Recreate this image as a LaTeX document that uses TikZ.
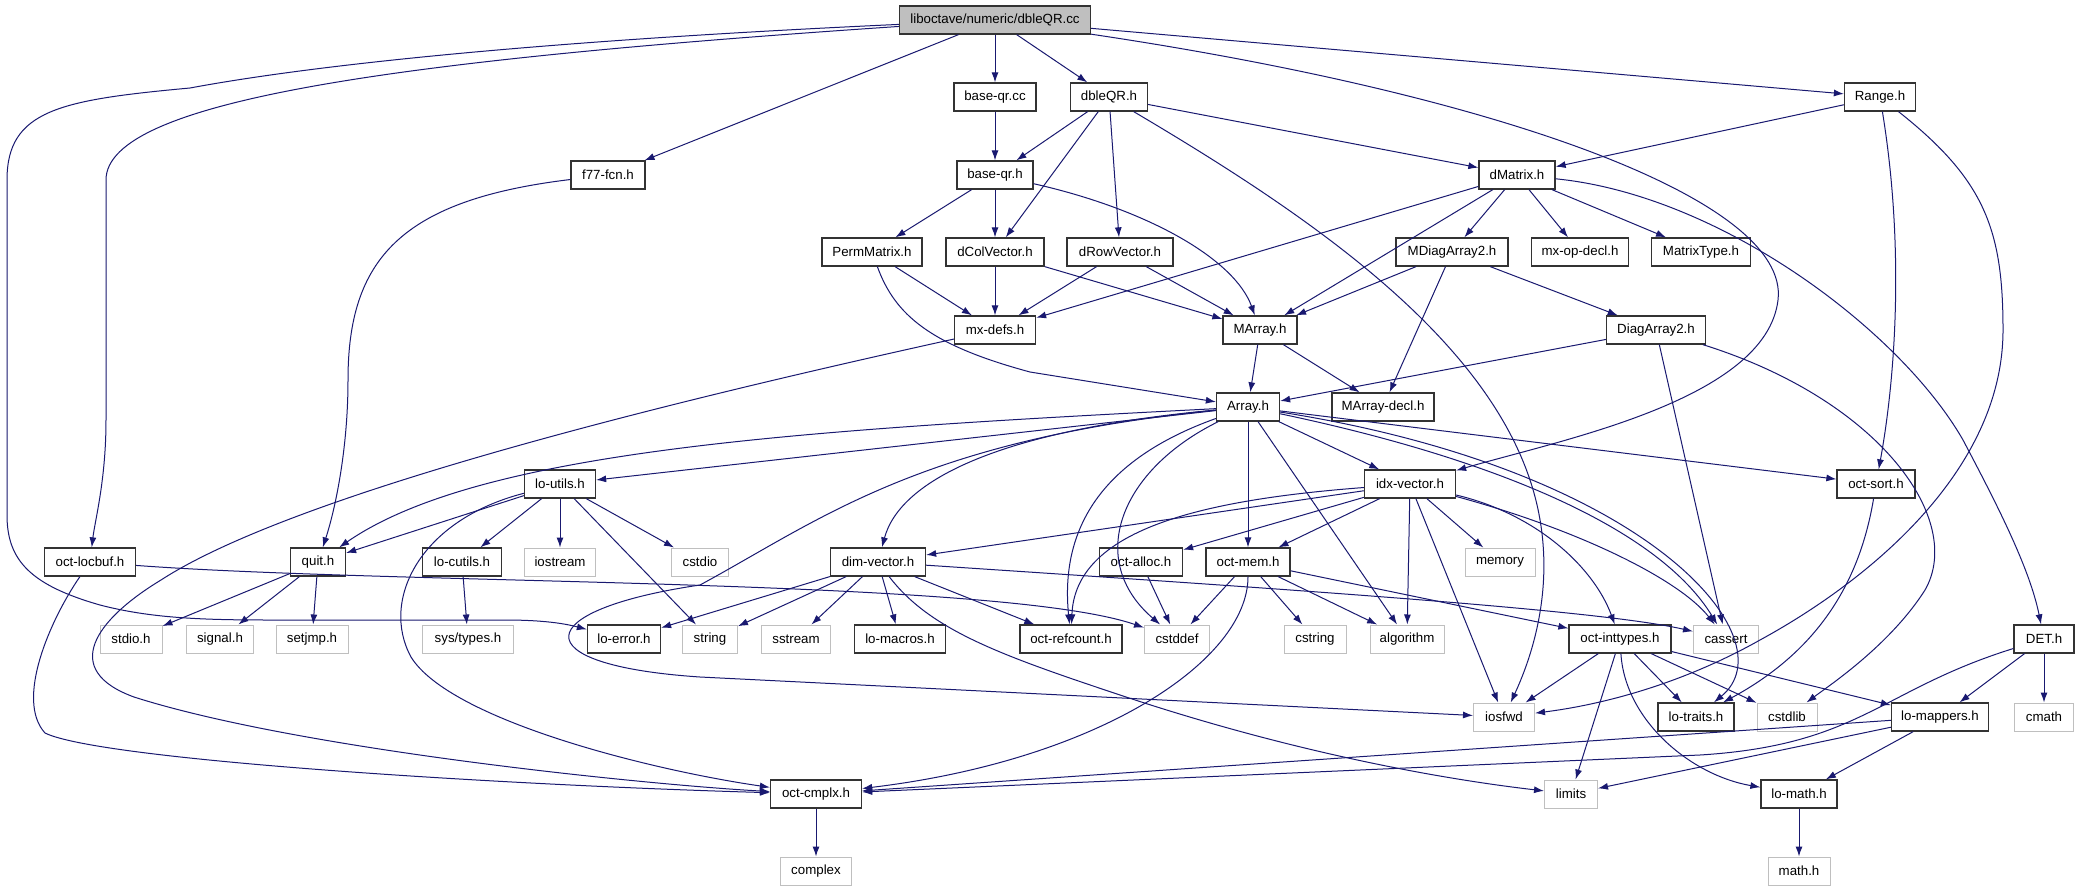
\documentclass[tikz,border=0pt]{standalone}
\usepackage{fontspec}
\setmainfont{Liberation Sans}
\usetikzlibrary{arrows.meta}

\definecolor{lien}{HTML}{191970}
\definecolor{grisbord}{HTML}{BFBFBF}
\definecolor{grisfond}{HTML}{BFBFBF}
\definecolor{bord}{HTML}{333333}

\tikzset{
  fichier/.style={draw=bord, line width=1.3pt, fill=white, inner sep=0pt,
    minimum height=28pt, font=\fontsize{13.3}{16}\selectfont},
  systeme/.style={fichier, draw=grisbord, line width=1pt},
  racine/.style={fichier, fill=grisfond},
  dep/.style={draw=lien, line width=1pt, -{Latex[length=10pt,width=7pt]}}
}

\begin{document}
\begin{tikzpicture}[x=1pt, y=-1pt]
		% fond et cadre
		\fill[white] (0,0) rectangle (2079,891);
		\useasboundingbox (0,0) rectangle (2079,891);

		% rang 0
		\node[racine, minimum width=191pt] (racine) at (995,20) {liboctave/numeric/dbleQR.cc};

		% rang 1
		\node[fichier, minimum width=82pt] (baseqrcc) at (995,97) {base-qr.cc};
		\node[fichier, minimum width=77pt] (dbleqr) at (1109,97) {dbleQR.h};
		\node[fichier, minimum width=71pt] (range) at (1880,97) {Range.h};

		% rang 2
		\node[fichier, minimum width=74pt] (f77) at (608,175) {f77-fcn.h};
		\node[fichier, minimum width=76pt] (baseqr) at (995,175) {base-qr.h};
		\node[fichier, minimum width=76pt] (dmatrix) at (1517,175) {dMatrix.h};

		% rang 3
		\node[fichier, minimum width=100pt] (perm) at (872,252) {PermMatrix.h};
		\node[fichier, minimum width=98pt] (dcol) at (995,252) {dColVector.h};
		\node[fichier, minimum width=106pt] (drow) at (1120,252) {dRowVector.h};
		\node[fichier, minimum width=112pt] (mdiag) at (1452,252) {MDiagArray2.h};
		\node[fichier, minimum width=97pt] (mxop) at (1580,252) {mx-op-decl.h};
		\node[fichier, minimum width=99pt] (mtype) at (1701,252) {MatrixType.h};

		% rang 4
		\node[fichier, minimum width=81pt] (mxdefs) at (995,330) {mx-defs.h};
		\node[fichier, minimum width=74pt] (marray) at (1260,330) {MArray.h};
		\node[fichier, minimum width=99pt] (diag) at (1656,330) {DiagArray2.h};

		% rang 5
		\node[fichier, minimum width=63pt] (array) at (1248,407) {Array.h};
		\node[fichier, minimum width=102pt] (marraydecl) at (1383,407) {MArray-decl.h};

		% rang 6
		\node[fichier, minimum width=71pt] (loutils) at (560,484) {lo-utils.h};
		\node[fichier, minimum width=91pt] (idx) at (1410,484) {idx-vector.h};
		\node[fichier, minimum width=78pt] (octsort) at (1876,484) {oct-sort.h};

		% rang 7
		\node[fichier, minimum width=91pt] (oclbuf) at (90,562) {oct-locbuf.h};
		\node[fichier, minimum width=55pt] (quit) at (318,562) {quit.h};
		\node[fichier, minimum width=79pt] (locutils) at (462,562) {lo-cutils.h};
		\node[systeme, minimum width=71pt] (iostream) at (560,562) {iostream};
		\node[systeme, minimum width=57pt] (cstdio) at (700,562) {cstdio};
		\node[fichier, minimum width=95pt] (dimvec) at (878,562) {dim-vector.h};
		\node[fichier, minimum width=83pt] (octalloc) at (1141,562) {oct-alloc.h};
		\node[fichier, minimum width=84pt] (octmem) at (1248,562) {oct-mem.h};
		\node[systeme, minimum width=70pt] (memory) at (1500,562) {memory};

		% rang 8
		\node[systeme, minimum width=62pt] (stdio) at (131,639) {stdio.h};
		\node[systeme, minimum width=67pt] (signal) at (220,639) {signal.h};
		\node[systeme, minimum width=72pt] (setjmp) at (312,639) {setjmp.h};
		\node[systeme, minimum width=91pt] (systypes) at (468,639) {sys/types.h};
		\node[fichier, minimum width=73pt] (loerror) at (624,639) {lo-error.h};
		\node[systeme, minimum width=55pt] (string) at (710,639) {string};
		\node[systeme, minimum width=69pt] (sstream) at (796,639) {sstream};
		\node[fichier, minimum width=91pt] (lomacros) at (900,639) {lo-macros.h};
		\node[fichier, minimum width=102pt] (octref) at (1071,639) {oct-refcount.h};
		\node[systeme, minimum width=65pt] (cstddef) at (1177,639) {cstddef};
		\node[systeme, minimum width=62pt] (cstring) at (1315,639) {cstring};
		\node[systeme, minimum width=74pt] (algorithm) at (1407,639) {algorithm};
		\node[fichier, minimum width=102pt] (octint) at (1620,639) {oct-inttypes.h};
		\node[systeme, minimum width=65pt] (cassert) at (1726,639) {cassert};
		\node[fichier, minimum width=60pt] (det) at (2044,639) {DET.h};

		% rang 9
		\node[systeme, minimum width=61pt] (iosfwd) at (1504,717) {iosfwd};
		\node[fichier, minimum width=76pt] (lotraits) at (1696,717) {lo-traits.h};
		\node[systeme, minimum width=60pt] (cstdlib) at (1787,717) {cstdlib};
		\node[fichier, minimum width=97pt] (lomap) at (1940,717) {lo-mappers.h};
		\node[systeme, minimum width=59pt] (cmath) at (2044,717) {cmath};

		% rang 10
		\node[fichier, minimum width=91pt] (octcmplx) at (816,794) {oct-cmplx.h};
		\node[systeme, minimum width=53pt] (limits) at (1571,794) {limits};
		\node[fichier, minimum width=76pt] (lomath) at (1799,794) {lo-math.h};

		% rang 11
		\node[systeme, minimum width=71pt] (complex) at (816,871) {complex};
		\node[systeme, minimum width=62pt] (mathh) at (1799,871) {math.h};

		% liens de dbleQR.cc
		\draw[dep] (racine) -- (f77);
		\draw[dep] (racine) -- (baseqrcc);
		\draw[dep] (racine) -- (dbleqr);
		\draw[dep] (racine) -- (range);
		\draw[dep] (racine) .. controls (400,60) and (106,100) .. (106,180) -- (106,420) .. controls (106,480) and (95,520) .. (oclbuf);
		\draw[dep] (racine) .. controls (450,45) and (260,75) .. (190,88) .. controls (60,100) and (7,110) .. (7,180) -- (7,515) .. controls (7,560) and (30,585) .. (100,605) .. controls (150,618) and (200,620) .. (270,620) -- (505,620) .. controls (550,620) and (570,625) .. (loerror);
		\draw[dep] (racine) .. controls (1500,95) and (1790,200) .. (1778,300) .. controls (1766,400) and (1560,440) .. (idx);

		% liens du rang 1
		\draw[dep] (baseqrcc) -- (baseqr);
		\draw[dep] (dbleqr) -- (baseqr);
		\draw[dep] (dbleqr) -- (dcol);
		\draw[dep] (dbleqr) -- (drow);
		\draw[dep] (dbleqr) -- (dmatrix);
		\draw[dep] (dbleqr) .. controls (1300,210) and (1480,330) .. (1530,480) .. controls (1560,570) and (1535,650) .. (iosfwd);
		\draw[dep] (range) -- (dmatrix);
		\draw[dep] (range) .. controls (1905,250) and (1895,380) .. (octsort);
		\draw[dep] (range) .. controls (1985,180) and (2003,230) .. (2003,330) .. controls (2003,470) and (1870,580) .. (1760,640) .. controls (1680,685) and (1600,705) .. (iosfwd);

		% liens du rang 2
		\draw[dep] (f77) .. controls (400,200) and (348,260) .. (348,380) .. controls (348,450) and (335,510) .. (quit);
		\draw[dep] (baseqr) -- (perm);
		\draw[dep] (baseqr) -- (dcol);
		\draw[dep] (baseqr) .. controls (1150,210) and (1235,260) .. (marray);
		\draw[dep] (dmatrix) -- (mxdefs);
		\draw[dep] (dmatrix) -- (marray);
		\draw[dep] (dmatrix) -- (mdiag);
		\draw[dep] (dmatrix) -- (mxop);
		\draw[dep] (dmatrix) -- (mtype);
		\draw[dep] (dmatrix) .. controls (1720,195) and (1900,330) .. (1963,440) .. controls (2000,510) and (2030,570) .. (det);

		% liens du rang 3
		\draw[dep] (perm) -- (mxdefs);
		\draw[dep] (perm) .. controls (895,315) and (930,345) .. (1030,372) -- (array);
		\draw[dep] (dcol) -- (mxdefs);
		\draw[dep] (dcol) -- (marray);
		\draw[dep] (drow) -- (mxdefs);
		\draw[dep] (drow) -- (marray);
		\draw[dep] (mdiag) -- (marray);
		\draw[dep] (mdiag) -- (marraydecl);
		\draw[dep] (mdiag) -- (diag);

		% liens du rang 4
		\draw[dep] (mxdefs) .. controls (700,395) and (300,490) .. (161,580) .. controls (95,620) and (60,670) .. (134,697) .. controls (300,750) and (650,785) .. (octcmplx);
		\draw[dep] (marray) -- (array);
		\draw[dep] (marray) -- (marraydecl);
		\draw[dep] (diag) -- (array);
		\draw[dep] (diag) -- (cassert);
		\draw[dep] (diag) .. controls (1880,400) and (1965,520) .. (1925,590) .. controls (1890,645) and (1830,685) .. (cstdlib);

		% liens de Array.h
		\draw[dep] (array) -- (loutils);
		\draw[dep] (array) .. controls (800,430) and (480,450) .. (quit);
		\draw[dep] (array) .. controls (1000,430) and (900,480) .. (dimvec);
		\draw[dep] (array) .. controls (920,440) and (820,520) .. (700,585) .. controls (530,610) and (520,665) .. (700,677) -- (iosfwd);
		\draw[dep] (array) .. controls (1100,460) and (1060,530) .. (octref);
		\draw[dep] (array) .. controls (1120,470) and (1085,560) .. (cstddef);
		\draw[dep] (array) -- (octmem);
		\draw[dep] (array) -- (algorithm);
		\draw[dep] (array) -- (idx);
		\draw[dep] (array) -- (octsort);
		\draw[dep] (array) .. controls (1500,460) and (1660,530) .. (cassert);
		\draw[dep] (array) .. controls (1650,470) and (1790,640) .. (lotraits);

		% liens du rang 6
		\draw[dep] (idx) -- (dimvec);
		\draw[dep] (idx) -- (octalloc);
		\draw[dep] (idx) -- (octmem);
		\draw[dep] (idx) .. controls (1200,500) and (1075,530) .. (octref);
		\draw[dep] (idx) -- (algorithm);
		\draw[dep] (idx) -- (iosfwd);
		\draw[dep] (idx) -- (memory);
		\draw[dep] (idx) .. controls (1540,515) and (1595,570) .. (octint);
		\draw[dep] (idx) .. controls (1580,530) and (1680,580) .. (cassert);
		\draw[dep] (loutils) -- (quit);
		\draw[dep] (loutils) -- (locutils);
		\draw[dep] (loutils) -- (iostream);
		\draw[dep] (loutils) -- (cstdio);
		\draw[dep] (loutils) -- (string);
		\draw[dep] (loutils) .. controls (420,520) and (380,600) .. (411,657) .. controls (450,720) and (650,770) .. (octcmplx);
		\draw[dep] (octsort) .. controls (1860,580) and (1820,650) .. (lotraits);

		% liens du rang 7
		\draw[dep] (oclbuf) .. controls (400,585) and (1000,578) .. (cstddef);
		\draw[dep] (oclbuf) .. controls (50,620) and (15,700) .. (45,733) .. controls (100,760) and (500,785) .. (octcmplx);
		\draw[dep] (quit) -- (stdio);
		\draw[dep] (quit) -- (signal);
		\draw[dep] (quit) -- (setjmp);
		\draw[dep] (locutils) -- (systypes);
		\draw[dep] (dimvec) -- (loerror);
		\draw[dep] (dimvec) -- (string);
		\draw[dep] (dimvec) -- (sstream);
		\draw[dep] (dimvec) -- (lomacros);
		\draw[dep] (dimvec) -- (octref);
		\draw[dep] (dimvec) .. controls (1300,590) and (1600,610) .. (cassert);
		\draw[dep] (dimvec) .. controls (930,630) and (1000,655) .. (1120,695) .. controls (1300,755) and (1450,780) .. (limits);
		\draw[dep] (octalloc) -- (cstddef);
		\draw[dep] (octmem) -- (cstddef);
		\draw[dep] (octmem) -- (cstring);
		\draw[dep] (octmem) -- (algorithm);
		\draw[dep] (octmem) -- (octint);
		\draw[dep] (octmem) .. controls (1248,660) and (1100,760) .. (octcmplx);

		% liens du rang 8
		\draw[dep] (octint) -- (iosfwd);
		\draw[dep] (octint) -- (limits);
		\draw[dep] (octint) -- (lotraits);
		\draw[dep] (octint) -- (cstdlib);
		\draw[dep] (octint) -- (lomap);
		\draw[dep] (octint) .. controls (1625,720) and (1690,775) .. (lomath);
		\draw[dep] (det) -- (lomap);
		\draw[dep] (det) -- (cmath);
		\draw[dep] (det) .. controls (1880,690) and (1860,745) .. (1700,755) -- (octcmplx);

		% liens des rangs 9 et 10
		\draw[dep] (lomap) -- (octcmplx);
		\draw[dep] (lomap) -- (limits);
		\draw[dep] (lomap) -- (lomath);
		\draw[dep] (lomath) -- (mathh);
		\draw[dep] (octcmplx) -- (complex);

		\end{tikzpicture}
\end{document}
